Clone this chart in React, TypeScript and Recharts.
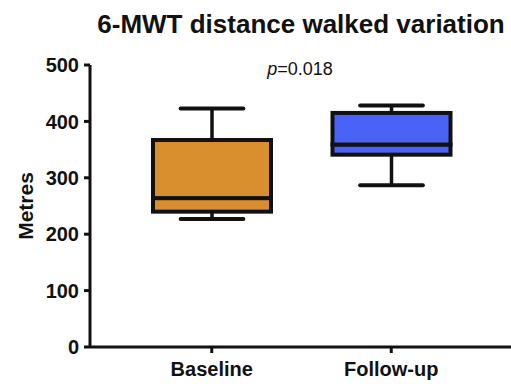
import { BarChart, Bar, XAxis, YAxis, Label } from "recharts";

// Five-number summaries for the two visits (metres)
const groups = ["Baseline", "Follow-up"];
const minima = [227, 287];
const lowerQuartiles = [240, 341];
const medians = [264, 359];
const upperQuartiles = [367, 415];
const maxima = [423, 428];
const boxColors = ["#D98F2E", "#4A63F6"];
const yTicks = [0, 100, 200, 300, 400, 500];

// Stacked segments: invisible floor, lower whisker, two box halves, upper whisker
const rows = groups.map((name, i) => ({
  name,
  floor: minima[i],
  lowWhisker: lowerQuartiles[i] - minima[i],
  lowBox: medians[i] - lowerQuartiles[i],
  highBox: upperQuartiles[i] - medians[i],
  highWhisker: maxima[i] - upperQuartiles[i],
  color: boxColors[i],
}));

const INK = "#111";
const FONT = '"Liberation Sans", Arial, Helvetica, sans-serif';
const tickStyle = { fill: INK, fontSize: 20, fontWeight: 700, fontFamily: FONT };

function whiskerShape(capAtTop: boolean) {
  return (props: any) => {
    const { x, y, width, height } = props;
    const cx = x + width / 2;
    const capY = capAtTop ? y : y + height;
    const capHalf = width * 0.257;
    return (
      <g>
        <line x1={cx} x2={cx} y1={y} y2={y + height} stroke={INK} strokeWidth={3.5} />
        <line
          x1={cx - capHalf}
          x2={cx + capHalf}
          y1={capY}
          y2={capY}
          stroke={INK}
          strokeWidth={4}
          strokeLinecap="round"
        />
      </g>
    );
  };
}

function boxShape(props: any) {
  const { x, y, width, height, payload } = props;
  return (
    <rect
      x={x + 2}
      y={y}
      width={width - 4}
      height={height}
      fill={payload.color}
      stroke={INK}
      strokeWidth={4}
    />
  );
}

function MetresLabel() {
  return (
    <text
      x={25}
      y={206}
      transform="rotate(-90 25 206)"
      textAnchor="middle"
      dominantBaseline="central"
      fill={INK}
      fontSize={21}
      fontWeight={700}
      fontFamily={FONT}
    >
      Metres
    </text>
  );
}

export default function App() {
  return (
    <div style={{ position: "relative", width: 511, height: 384, background: "#fff" }}>
      <style>{"body{margin:0}"}</style>
      <BarChart
        width={511}
        height={384}
        data={rows}
        margin={{ top: 65, right: 0, bottom: 0, left: 0 }}
      >
        <XAxis
          dataKey="name"
          height={37}
          padding={{ left: 32, right: 30 }}
          tick={tickStyle}
          tickSize={6}
          tickMargin={9}
          axisLine={{ stroke: INK, strokeWidth: 3 }}
          tickLine={{ stroke: INK, strokeWidth: 3 }}
        />
        <YAxis
          width={90}
          domain={[0, 500]}
          ticks={yTicks}
          interval={0}
          tick={tickStyle}
          tickSize={6}
          tickMargin={5}
          axisLine={{ stroke: INK, strokeWidth: 3 }}
          tickLine={{ stroke: INK, strokeWidth: 3 }}
        >
          <Label content={<MetresLabel />} />
        </YAxis>
        <Bar dataKey="floor" stackId="box" barSize={122} fill="transparent" isAnimationActive={false} />
        <Bar dataKey="lowWhisker" stackId="box" barSize={122} shape={whiskerShape(false)} isAnimationActive={false} />
        <Bar dataKey="lowBox" stackId="box" barSize={122} shape={boxShape} isAnimationActive={false} />
        <Bar dataKey="highBox" stackId="box" barSize={122} shape={boxShape} isAnimationActive={false} />
        <Bar dataKey="highWhisker" stackId="box" barSize={122} shape={whiskerShape(true)} isAnimationActive={false} />
      </BarChart>
      <svg
        width={511}
        height={90}
        style={{ position: "absolute", left: 0, top: 0, pointerEvents: "none" }}
      >
        <text x={301} y={33} textAnchor="middle" fill={INK} fontSize={26} fontWeight={700} fontFamily={FONT}>
          6-MWT distance walked variation
        </text>
        <text x={300} y={75} textAnchor="middle" fill={INK} fontSize={18} fontFamily={FONT}>
          <tspan fontStyle="italic">p</tspan>=0.018
        </text>
      </svg>
    </div>
  );
}
